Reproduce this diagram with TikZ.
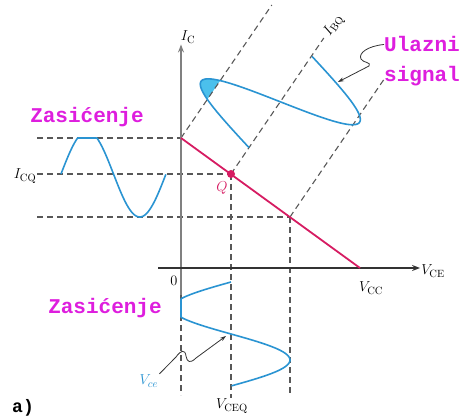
\documentclass[tikz,border=0pt]{standalone}
\usepackage{fontspec}
\usetikzlibrary{arrows.meta}
\newfontfamily\slabfont{Liberation Mono}
\definecolor{sigBlue}{RGB}{42,148,210}
\definecolor{sigFill}{RGB}{75,192,236}
\definecolor{loadRed}{RGB}{214,28,98}
\definecolor{noteMag}{RGB}{222,30,222}
\definecolor{dashGray}{RGB}{88,88,88}

\begin{document}
\begin{tikzpicture}[x=1pt, y=-1pt,
    qpAxisStyle/.style={line width=1.4pt, -{Stealth[length=8pt,width=6pt]}},
    qpDashStyle/.style={dashGray, line width=1.1pt, dash pattern=on 6pt off 4pt},
    qpWaveStyle/.style={sigBlue, line width=1.6pt, line join=round},
    qpLoadStyle/.style={loadRed, line width=1.8pt},
    qpLabelStyle/.style={font=\fontsize{15}{18}\selectfont, inner sep=1pt},
    qpNoteStyle/.style={noteMag, font=\slabfont\bfseries\fontsize{21}{24}\selectfont, inner sep=0pt},
    qpPtrStyle/.style={black!80, line width=0.8pt, -{Stealth[length=6pt,width=4pt]}}]

    \useasboundingbox (0,0) rectangle (464,420);

    % Operating points on the load line
    \coordinate (org) at (181,268);
    \coordinate (sat) at (181,138);
    \coordinate (Q) at (231,174);
    \coordinate (cut) at (290,217);
    \coordinate (vcc) at (360,268);

    \node[qpLabelStyle] (lblIC) at (188,37) {$I_{\mathrm{C}}$};
    \node[qpLabelStyle] (lblICQ) at (25,176) {$I_{\mathrm{CQ}}$};
    \node[qpLabelStyle] (lblVCE) at (433,271) {$V_{\mathrm{CE}}$};
    \node[qpLabelStyle] (lblVCC) at (371,288) {$V_{\mathrm{CC}}$};
    \node[qpLabelStyle] (lblZero) at (174,281) {$0$};
    \node[qpLabelStyle, text=loadRed] (lblQ) at (222,188) {$Q$};
    \node[qpLabelStyle] (lblVCEQ) at (232,406) {$V_{\mathrm{CEQ}}$};
    \node[qpLabelStyle, rotate=55.7] (lblIBQ) at (334,26) {$I_{\mathrm{BQ}}$};
    \node[qpLabelStyle, text=sigBlue] (lblVce) at (149,381) {$V_{ce}$};
    \node[qpNoteStyle, anchor=base] (noteSatTop) at (87,123) {Zasićenje};
    \node[qpNoteStyle, anchor=base] (noteSatBot) at (105,313) {Zasićenje};
    \node[qpNoteStyle, anchor=base west] (noteInA) at (384,52) {Ulazni};
    \node[qpNoteStyle, anchor=base west] (noteInB) at (384,82) {signal};
    \node[qpNoteStyle, text=black, anchor=base west, font=\slabfont\bfseries\fontsize{18}{20}\selectfont] (lblA) at (12,412) {a)};

    \coordinate (ibTip) at (338,82);
    \coordinate (vceTip) at (226,336);

    % Saturated tip of the input signal
    \begin{scope}
        \clip (sat) -- ++(112.8,-165.2) -- ++(-82.6,-56.4) -- ++(-112.8,165.2) -- cycle;
        \fill[sigFill] plot[domain=0:0.5, samples=60, variable=\t]
            ({249.0+62.6*\t-63.6*sin(360*\t)}, {147.65-91.7*\t-43.4*sin(360*\t)}) -- cycle;
    \end{scope}

    \draw[qpDashStyle] (lblICQ.east |- sat) -- (sat);
    \draw[qpDashStyle] (lblICQ.east |- Q) -- (Q);
    \draw[qpDashStyle] (lblICQ.east |- cut) -- (cut);
    \draw[qpDashStyle] (181,295) -- (181,395);
    \draw[qpDashStyle] (Q) -- (lblVCEQ.north -| Q);
    \draw[qpDashStyle] (cut) -- (290,393);
    \draw[qpDashStyle] (sat) -- ++(90.8,-133);
    \draw[qpDashStyle] (Q) -- ++(92.8,-136);
    \draw[qpDashStyle] (cut) -- ++(94.9,-139);

    \draw[qpAxisStyle, black!50] (181,295) -- (lblIC.south -| org);
    \draw[qpAxisStyle, black!80] (158,268) -- (lblVCE.west |- org);
    \draw[qpLoadStyle] (sat) -- (vcc);
    \fill[loadRed] (Q) circle[radius=4pt];

    % Signals
    \draw[qpWaveStyle] plot[domain=0:1, samples=120, variable=\t]
        ({249.0+62.6*\t-63.6*sin(360*\t)}, {147.65-91.7*\t-43.4*sin(360*\t)});
    \draw[qpWaveStyle] plot[domain=0:1, samples=120, variable=\t]
        ({61+105*\t}, {max(138,174-43*sin(360*\t))});
    \draw[qpWaveStyle] plot[domain=0:1, samples=120, variable=\t]
        ({max(181,231-59*sin(360*\t))}, {282+104*\t});

    \draw[qpPtrStyle] (noteInA.west) .. controls (368,46) and (358,53) .. (361,59)
        .. controls (363,63) and (372,62) .. (369,66) -- (ibTip);
    \draw[qpPtrStyle] (lblVce.north east) -- (176,357) .. controls (181,350) and (185,349) .. (186,356)
        .. controls (187,362) and (190,364) .. (196,358) -- (vceTip);
\end{tikzpicture}
\end{document}
